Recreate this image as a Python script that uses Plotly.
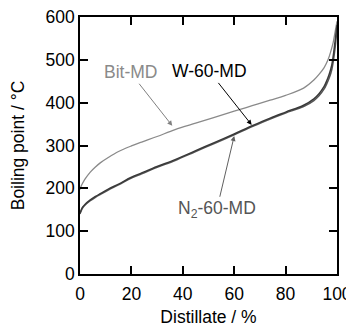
import plotly.graph_objects as go

# Bit-MD
bit_x = [0, 0.5, 1, 2, 4, 6, 8, 11, 15, 20, 24, 30, 37, 45, 52, 60, 67, 74, 80, 87, 91, 93, 95, 96.5, 97.5, 98.5, 99.2, 100]
bit_y = [197, 206, 212, 222, 238, 250, 260, 272, 286, 299, 308, 321, 337, 352, 365, 380, 393, 406, 417, 434, 453, 466, 482, 500, 518, 540, 563, 590]

# W-60-MD
w_x = [0, 0.5, 1, 2, 4, 6, 8, 11, 15, 20, 24, 30, 37, 45, 52, 60, 67, 74, 80, 87, 91, 93, 95, 96, 97, 98, 99.2, 100]
w_y = [142, 150, 156, 163, 173, 181, 188, 198, 210, 226, 236, 251, 267, 288, 306, 327, 346, 364, 378, 394, 409, 421, 438, 451, 467, 489, 540, 582]

# N2-60-MD
n_x = [0, 0.5, 1, 2, 4, 6, 8, 11, 15, 20, 24, 30, 37, 45, 52, 60, 67, 74, 80, 87, 91, 93, 95, 96, 97, 98, 99.2, 100]
n_y = [140, 148, 154, 161, 171, 179, 186, 196, 208, 224, 234, 249, 265, 286, 304, 325, 344, 362, 376, 391, 405, 416, 432, 444, 458, 478, 525, 575]

x_ticks = [0, 20, 40, 60, 80, 100]
y_ticks = [0, 100, 200, 300, 400, 500, 600]

FONT = "Liberation Sans, Arial, sans-serif"
FS = 17.5

fig = go.Figure()
fig.add_trace(go.Scatter(x=bit_x, y=bit_y, mode="lines", line=dict(color="#8a8a8a", width=1.3, shape="spline"), showlegend=False))
fig.add_trace(go.Scatter(x=n_x, y=n_y, mode="lines", line=dict(color="#555555", width=1.5, shape="spline"), showlegend=False))
fig.add_trace(go.Scatter(x=w_x, y=w_y, mode="lines", line=dict(color="#3a3a3a", width=1.5, shape="spline"), showlegend=False))

ann_common = dict(xref="x", yref="y", axref="x", ayref="y", showarrow=True, arrowsize=1, arrowwidth=1, arrowhead=2)
fig.add_annotation(x=35.9, y=346, ax=19.5, ay=471, text="Bit-MD", arrowcolor="#808080",
                   font=dict(size=FS, color="#8a8a8a", family=FONT), **ann_common)
fig.add_annotation(x=66.8, y=348, ax=50.3, ay=473, text="W-60-MD", arrowcolor="#000000",
                   font=dict(size=FS, color="#000000", family=FONT), **ann_common)
fig.add_annotation(x=60, y=322, ax=53.2, ay=150, text="N<sub>2</sub>-60-MD", arrowcolor="#606060",
                   font=dict(size=FS, color="#555555", family=FONT), **ann_common)

axis_common = dict(showgrid=False, zeroline=False, showline=True, linecolor="black", linewidth=1.5,
                   mirror="ticks", ticks="inside", ticklen=8, tickwidth=1.5, tickcolor="black",
                   automargin=False, ticklabeloverflow="allow",
                   tickfont=dict(size=FS, color="black", family=FONT))

fig.update_xaxes(range=[0, 100], tickvals=x_ticks, ticklabelstandoff=3,
                 title=dict(text="Distillate / %", font=dict(size=FS, color="black", family=FONT), standoff=10), **axis_common)
fig.update_yaxes(range=[0, 600], tickvals=y_ticks,
                 title=dict(text="Boiling point / °C", font=dict(size=FS, color="black", family=FONT), standoff=17), **axis_common)

# page body has an 8px default margin; compensate so plot area sits at x 80-337, y 17-274
fig.update_layout(width=346, height=319, margin=dict(l=72, r=17, t=9, b=53, autoexpand=False),
                  plot_bgcolor="white", paper_bgcolor="white", font=dict(family=FONT))

fig.write_html("out.html")
